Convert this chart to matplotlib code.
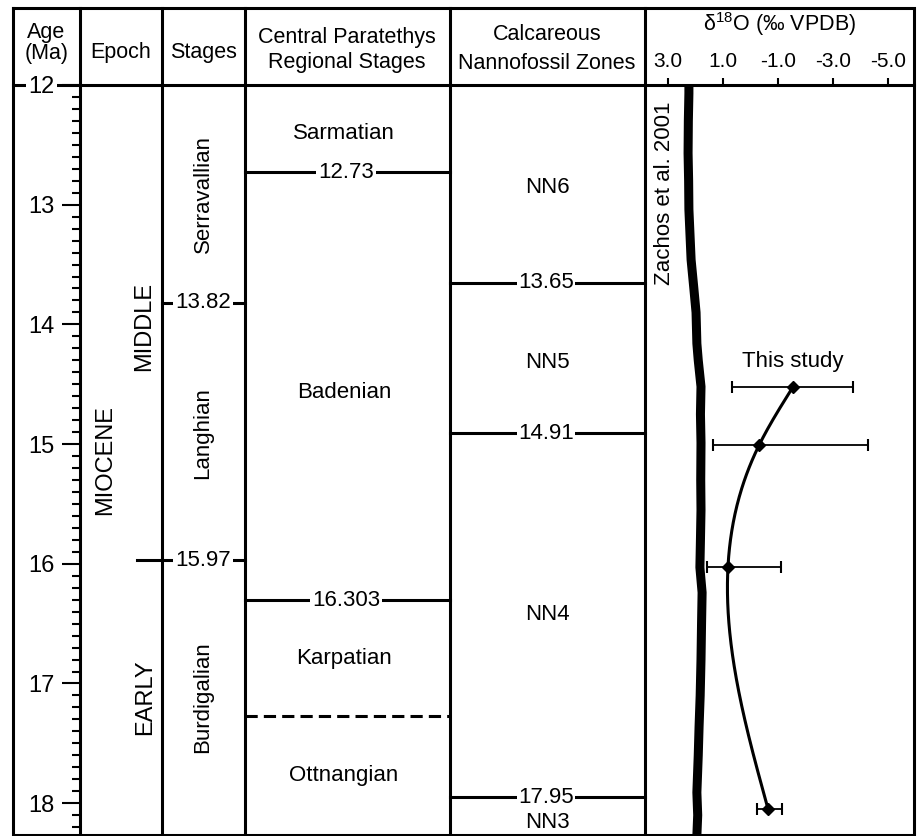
import matplotlib
matplotlib.use("Agg")
import matplotlib.pyplot as plt
import numpy as np
from matplotlib.ticker import FixedLocator, MultipleLocator

plt.rcParams['font.family'] = ['Liberation Sans', 'DejaVu Sans']
plt.rcParams['mathtext.fontset'] = 'custom'
plt.rcParams['mathtext.rm'] = 'Liberation Sans'
plt.rcParams['mathtext.it'] = 'Liberation Sans:italic'

# ---------------- data ----------------
age_major = [12, 13, 14, 15, 16, 17, 18]
age_labels = ["12", "13", "14", "15", "16", "17", "18"]

epoch_name = "MIOCENE"
subepoch_names = ["MIDDLE", "EARLY"]
subepoch_bound = 15.97

stage_names = ["Serravallian", "Langhian", "Burdigalian"]
stage_bounds = [13.82, 15.97]
stage_bound_labels = ["13.82", "15.97"]

regional_names = ["Sarmatian", "Badenian", "Karpatian", "Ottnangian"]
regional_bounds = [12.73, 16.303]
regional_bound_labels = ["12.73", "16.303"]
regional_dashed = [17.27]

nanno_names = ["NN6", "NN5", "NN4", "NN3"]
nanno_bounds = [13.65, 14.91, 17.95]
nanno_bound_labels = ["13.65", "14.91", "17.95"]

d18o_ticks = [3.0, 1.0, -1.0, -3.0, -5.0]
d18o_ticklabels = ["3.0", "1.0", "-1.0", "-3.0", "-5.0"]

zachos_age = [12.0, 12.07, 12.3, 12.57, 12.8, 13.04, 13.25, 13.46, 13.7, 13.9,
              14.16, 14.3, 14.52, 14.75, 14.99, 15.3, 15.55, 15.8, 16.03, 16.24,
              16.5, 16.8, 17.1, 17.36, 17.6, 17.91, 18.1, 18.27]
zachos_d18o = [2.24, 2.24, 2.26, 2.27, 2.25, 2.24, 2.20, 2.16, 2.06, 1.98,
               1.95, 1.90, 1.80, 1.82, 1.80, 1.81, 1.80, 1.82, 1.84, 1.76,
               1.78, 1.80, 1.83, 1.87, 1.90, 1.95, 1.92, 1.95]

study_age = [14.52, 15.01, 16.03, 18.05]
study_d18o = [-1.55, -0.31, 0.82, -0.64]
study_min = [-3.73, -4.27, -1.11, -1.15]
study_max = [0.67, 1.36, 1.58, -0.24]

# ---------------- layout ----------------
W, H = 917, 836
PX_PER_MA = 119.7
Y_HDR = 85


def age_at(ypix):
    return 12 + (ypix - Y_HDR) / PX_PER_MA


X_LEFT, X_AGE, X_EPOCH, X_STAGE, X_REG, X_NANNO, X_RIGHT = 13, 80, 162, 245, 450, 645, 914
Y_TOP, Y_BOT = 8, 835
LW = 2.2
FS = 16
HFS = 15.5

fig = plt.figure(figsize=(W / 100, H / 100), dpi=100)
ax = fig.add_axes([0, 0, 1, 1])
ax.set_xlim(0, W)
ax.set_ylim(age_at(H), age_at(0))
ax.axis('off')

a_top, a_bot = age_at(Y_TOP), age_at(Y_BOT)
# outer border
ax.plot([X_LEFT, X_RIGHT, X_RIGHT, X_LEFT, X_LEFT], [a_top, a_top, a_bot, a_bot, a_top],
        color='black', lw=LW, clip_on=False, solid_joinstyle='miter')
# column lines
for xc in [X_AGE, X_EPOCH, X_STAGE, X_REG, X_NANNO]:
    ax.plot([xc, xc], [a_top, a_bot], color='black', lw=LW)
# header line
ax.plot([X_LEFT, X_RIGHT], [12, 12], color='black', lw=LW)

# header texts
ax.text((X_LEFT + X_AGE) / 2, age_at(43), "Age\n(Ma)", ha='center', va='center', fontsize=HFS, linespacing=1.0)
ax.text((X_AGE + X_EPOCH) / 2, age_at(52), "Epoch", ha='center', va='center', fontsize=HFS)
ax.text((X_EPOCH + X_STAGE) / 2, age_at(52), "Stages", ha='center', va='center', fontsize=HFS)
ax.text(347, age_at(50), "Central Paratethys\nRegional Stages", ha='center', va='center', fontsize=HFS, linespacing=1.2)
ax.text(547, age_at(49), "Calcareous\nNannofossil Zones", ha='center', va='center', fontsize=HFS, linespacing=1.45)
ax.text(780, age_at(24), r"δ$^{18}$O (‰ VPDB)", ha='center', va='center', fontsize=HFS)

# epoch column
ax.text(105, age_at(460), epoch_name, rotation=90, ha='center', va='center', fontsize=17)
ax.text(144, age_at(326), subepoch_names[0], rotation=90, ha='center', va='center', fontsize=17)
ax.text(145, age_at(697), subepoch_names[1], rotation=90, ha='center', va='center', fontsize=17)
ax.plot([137, X_EPOCH], [subepoch_bound, subepoch_bound], color='black', lw=LW)

box = dict(boxstyle='square,pad=0.1', fc='white', ec='none')

# stages column
for name, ypix in zip(stage_names, [194, 433, 697]):
    ax.text(203, age_at(ypix), name, rotation=90, ha='center', va='center', fontsize=FS)
for b, lab in zip(stage_bounds, stage_bound_labels):
    ax.plot([X_EPOCH, X_STAGE], [b, b], color='black', lw=LW)
    ax.text(203, b, lab, ha='center', va='center', fontsize=FS, bbox=box)

# regional stages column
for name, ypix in zip(regional_names, [133, 392, 658, 775]):
    ax.text(344, age_at(ypix), name, ha='center', va='center', fontsize=FS)
for b, lab in zip(regional_bounds, regional_bound_labels):
    ax.plot([X_STAGE, X_REG], [b, b], color='black', lw=LW)
    ax.text(346, b, lab, ha='center', va='center', fontsize=FS, bbox=box)
for b in regional_dashed:
    ax.plot([X_STAGE, X_REG], [b, b], color='black', lw=LW, linestyle=(0, (4, 2)))

# nannofossil column
for name, ypix in zip(nanno_names, [187, 362, 614, 822]):
    ax.text(547, age_at(ypix), name, ha='center', va='center', fontsize=FS)
for b, lab in zip(nanno_bounds, nanno_bound_labels):
    ax.plot([X_REG, X_NANNO], [b, b], color='black', lw=LW)
    ax.text(546, b, lab, ha='center', va='center', fontsize=FS,
            bbox=dict(boxstyle='square,pad=0.05', fc='white', ec='none'))

# ---------------- age axis ----------------
axb = fig.add_axes([X_AGE / W, (H - Y_BOT) / H, (X_NANNO - X_AGE) / W, (Y_BOT - Y_HDR) / H])
axb.patch.set_alpha(0)
axb.set_ylim(age_at(Y_BOT), 12)
axb.set_xlim(0, 1)
for s in axb.spines.values():
    s.set_visible(False)
axb.xaxis.set_visible(False)
axb.yaxis.set_major_locator(FixedLocator(age_major))
axb.set_yticklabels(age_labels)
axb.yaxis.set_minor_locator(MultipleLocator(0.1))
axb.tick_params(axis='y', which='major', direction='out', length=13, width=1.5, pad=5, labelsize=17)
axb.tick_params(axis='y', which='minor', direction='out', length=5.8, width=1.5)
for t in axb.get_yticklabels():
    t.set_bbox(dict(boxstyle='square,pad=0.1', fc='white', ec='none'))

# ---------------- d18O panel ----------------
PX_PER_UNIT = 27.5
X_V3 = 668
v_left = 3 + (X_V3 - X_NANNO) / PX_PER_UNIT
v_right = 3 - (X_RIGHT - X_V3) / PX_PER_UNIT
axd = fig.add_axes([X_NANNO / W, (H - Y_BOT) / H, (X_RIGHT - X_NANNO) / W, (Y_BOT - Y_HDR) / H])
axd.patch.set_alpha(0)
axd.set_xlim(v_left, v_right)
axd.set_ylim(age_at(Y_BOT), 12)
for s in axd.spines.values():
    s.set_visible(False)
axd.xaxis.tick_top()
axd.set_xticks(d18o_ticks)
axd.set_xticklabels(d18o_ticklabels)
axd.tick_params(axis='x', direction='out', length=5, width=1.5, pad=5, labelsize=15)
axd.set_yticks([])

# Zachos et al. 2001 curve
axd.plot(zachos_d18o, zachos_age, color='black', lw=6.5, solid_joinstyle='round', solid_capstyle='butt')
axd.text((665 - X_NANNO) / (X_RIGHT - X_NANNO), 1 - (193 - Y_HDR) / (Y_BOT - Y_HDR),
         "Zachos et al. 2001", transform=axd.transAxes, rotation=90,
         ha='center', va='center', fontsize=16)

# This study: smooth curve (natural cubic spline through the points)
xa = np.array(study_age, dtype=float)
ya = np.array(study_d18o, dtype=float)
n = len(xa)
h = np.diff(xa)
A = np.zeros((n, n))
r = np.zeros(n)
A[0, 0] = A[-1, -1] = 1
for i in range(1, n - 1):
    A[i, i - 1] = h[i - 1]
    A[i, i] = 2 * (h[i - 1] + h[i])
    A[i, i + 1] = h[i]
    r[i] = 3 * ((ya[i + 1] - ya[i]) / h[i] - (ya[i] - ya[i - 1]) / h[i - 1])
c = np.linalg.solve(A, r)
bcoef = (ya[1:] - ya[:-1]) / h - h * (2 * c[:-1] + c[1:]) / 3
dcoef = (c[1:] - c[:-1]) / (3 * h)
ts = np.linspace(xa[0], xa[-1], 300)
idx = np.clip(np.searchsorted(xa, ts) - 1, 0, n - 2)
dt = ts - xa[idx]
ys = ya[idx] + bcoef[idx] * dt + c[idx] * dt ** 2 + dcoef[idx] * dt ** 3
axd.plot(ys, ts, color='black', lw=2.2)

xerr = [np.array(study_d18o) - np.array(study_min), np.array(study_max) - np.array(study_d18o)]
axd.errorbar(study_d18o, study_age, xerr=xerr, fmt='D', color='black', ms=6,
             elinewidth=1.3, capsize=4.3, capthick=1.5)
axd.text(-1.55, age_at(362), "This study", ha='center', va='center', fontsize=16)

fig.savefig("out.png", dpi=100)
